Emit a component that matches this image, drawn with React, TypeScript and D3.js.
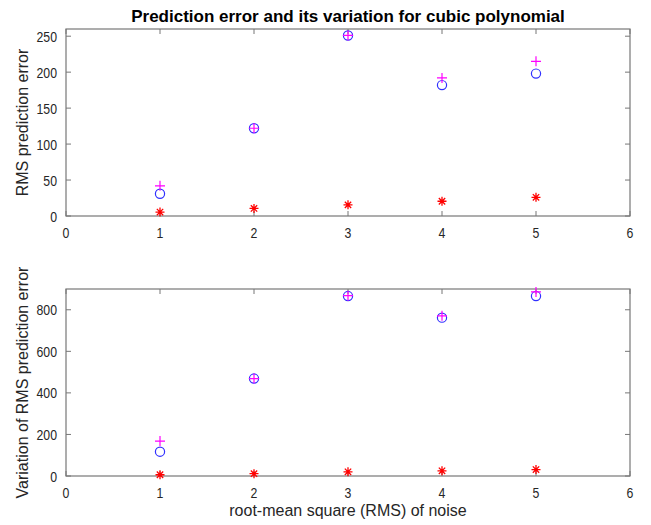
import React from "react";
import * as d3 from "d3";

const noiseLevels = [1, 2, 3, 4, 5];
const rmsPlus = [42, 122, 251, 192, 215];
const rmsCircle = [31, 122, 251, 182, 198];
const rmsStar = [5.5, 10.5, 15.5, 20.5, 26];
const varPlus = [168, 469, 868, 771, 886];
const varCircle = [117, 469, 866, 762, 866];
const varStar = [6, 11, 20, 25, 31];
const xTicks = [0, 1, 2, 3, 4, 5, 6];
const topYTicks = [0, 50, 100, 150, 200, 250];
const botYTicks = [0, 200, 400, 600, 800];

const W = 651, H = 525;
const left = 66, right = 630;
const font = "'Liberation Sans', Arial, Helvetica, sans-serif";
const axisColor = "#777";
const textColor = "#262626";
const tickSX = 0.82;

const x = d3.scaleLinear().domain([0, 6]).range([left, right]);

function TickText({ tx, ty, anchor, children }: any) {
  return (
    <text transform={`translate(${tx},${ty}) scale(${tickSX},1)`} textAnchor={anchor} fontSize={15} fill={textColor} fontFamily={font}>
      {children}
    </text>
  );
}

function Panel({ top, bottom, yMax, yTicks, plus, circ, star, ylabel }: any) {
  const y = d3.scaleLinear().domain([0, yMax]).range([bottom, top]);
  const tl = 5;
  const starPath = (cx: number, cy: number) => {
    const r = 4.5;
    let d = "";
    for (let i = 0; i < 4; i++) {
      const a = (i * Math.PI) / 4;
      d += `M${cx - r * Math.cos(a)},${cy - r * Math.sin(a)}L${cx + r * Math.cos(a)},${cy + r * Math.sin(a)}`;
    }
    return d;
  };
  return (
    <g>
      <rect x={left} y={top} width={right - left} height={bottom - top} fill="white" stroke={axisColor} strokeWidth={1.2} />
      {xTicks.map((t) => (
        <g key={"x" + t}>
          <line x1={x(t)} x2={x(t)} y1={bottom} y2={bottom - tl} stroke={axisColor} />
          <line x1={x(t)} x2={x(t)} y1={top} y2={top + tl} stroke={axisColor} />
          <TickText tx={x(t)} ty={bottom + 22} anchor="middle">{t}</TickText>
        </g>
      ))}
      {yTicks.map((t: number) => (
        <g key={"y" + t}>
          <line x1={left} x2={left + tl} y1={y(t)} y2={y(t)} stroke={axisColor} />
          <line x1={right} x2={right - tl} y1={y(t)} y2={y(t)} stroke={axisColor} />
          <TickText tx={left - 9} ty={y(t) + 5.5} anchor="end">{t}</TickText>
        </g>
      ))}
      {noiseLevels.map((n, i) => (
        <g key={"m" + i}>
          <path d={starPath(x(n), y(star[i]))} stroke="#ff0000" strokeWidth={1.3} />
          <circle cx={x(n)} cy={y(circ[i])} r={4.6} fill="none" stroke="#3030ff" strokeWidth={1.2} />
          <path d={`M${x(n) - 5},${y(plus[i])}H${x(n) + 5}M${x(n)},${y(plus[i]) - 5}V${y(plus[i]) + 5}`} stroke="#ff00ff" strokeWidth={1.2} />
        </g>
      ))}
      <text transform={`translate(28,${(top + bottom) / 2}) rotate(-90)`} textAnchor="middle" fontSize={16} fill={textColor} fontFamily={font}>{ylabel}</text>
    </g>
  );
}

export default function App() {
  return (
    <svg width={W} height={H} style={{ position: "absolute", left: 0, top: 0, background: "white" }}>
      <rect width={W} height={H} fill="white" />
      <text x={(left + right) / 2} y={22} textAnchor="middle" fontSize={17} fontWeight="bold" fill="#000" fontFamily={font}>
        Prediction error and its variation for cubic polynomial
      </text>
      <Panel top={29} bottom={216} yMax={260} yTicks={topYTicks} plus={rmsPlus} circ={rmsCircle} star={rmsStar} ylabel="RMS prediction error" />
      <Panel top={289} bottom={476} yMax={900} yTicks={botYTicks} plus={varPlus} circ={varCircle} star={varStar} ylabel="Variation of RMS prediction error" />
      <text x={(left + right) / 2} y={516} textAnchor="middle" fontSize={16} fill={textColor} fontFamily={font}>
        root-mean square (RMS) of noise
      </text>
    </svg>
  );
}
